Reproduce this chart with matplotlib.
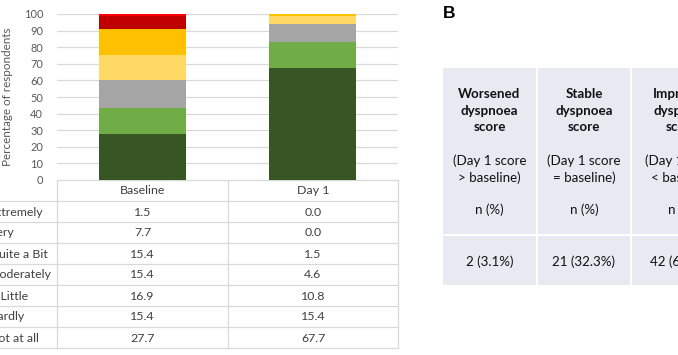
import matplotlib
matplotlib.use("Agg")
import matplotlib.pyplot as plt
import numpy as np

plt.rcParams["font.family"] = ["Lato", "DejaVu Sans"]

# ---- data ----
timepoints = ["Baseline", "Day 1"]
categories = ["Not at all", "Hardly", "A Little", "Moderately", "Quite a Bit", "Very", "Extremely"]
baseline = [27.7, 15.4, 16.9, 15.4, 15.4, 7.7, 1.5]
day1 = [67.7, 15.4, 10.8, 4.6, 1.5, 0.0, 0.0]
colors = ["#375623", "#70AD47", "#A5A5A5", "#FFD966", "#FFC000", "#C00000", "#FF0000"]

yticks = list(range(0, 101, 10))

change_headers = [
    ["Worsened", "dyspnoea", "score"],
    ["Stable", "dyspnoea", "score"],
    ["Improved", "dyspnoea", "score"],
]
change_rules = [
    ["(Day 1 score", "> baseline)"],
    ["(Day 1 score", "= baseline)"],
    ["(Day 1 score", "< baseline)"],
]
change_counts = [2, 21, 42]
change_pcts = [3.1, 32.3, 64.6]

W, H = 678, 355
fig = plt.figure(figsize=(W / 100, H / 100), dpi=100)

# overlay axes in pixel coordinates (y down)
ov = fig.add_axes([0, 0, 1, 1])
ov.set_xlim(0, W)
ov.set_ylim(H, 0)
ov.axis("off")

# ---- stacked bar chart ----
ax_l, ax_r, ax_t, ax_b = 57, 398, 14, 180
ax = fig.add_axes([ax_l / W, 1 - ax_b / H, (ax_r - ax_l) / W, (ax_b - ax_t) / H])
x = np.arange(len(timepoints))
series = np.array([baseline, day1]).T
bottom = np.zeros(len(timepoints))
for vals, c in zip(series, colors):
    ax.bar(x, vals, width=0.51, bottom=bottom, color=c, zorder=3)
    bottom += vals
ax.set_xlim(-0.5, 1.5)
ax.set_ylim(0, 100)
ax.set_yticks(yticks)
ax.set_xticks([])
ax.grid(axis="y", color="#D9D9D9", linewidth=0.9, zorder=0)
for s in ax.spines.values():
    s.set_visible(False)
ax.tick_params(axis="y", length=0, labelsize=7.9, labelcolor="#595959", pad=10)
ax.set_ylabel("Percentage of respondents", fontsize=8.4, color="#595959")
ax.yaxis.set_label_coords(-44 / (ax_r - ax_l), 0.5)

# ---- data table under the chart ----
line_c = "#D9D9D9"
txt_c = "#404040"
fs_tab = 8.9
row_h = 21
top = 180
col_edges = [57, 228, 398]
n_rows = len(categories)
# header row
ov.plot([57, 398], [top, top], color=line_c, lw=0.9)
for i, t in enumerate(timepoints):
    cx = (col_edges[i] + col_edges[i + 1]) / 2
    ov.text(cx, top + row_h / 2 + 0.5, t, ha="center", va="center", fontsize=fs_tab, color=txt_c)
rows_top_down = list(range(n_rows))[::-1]
for r, ci in enumerate(rows_top_down):
    y0 = top + row_h * (r + 1)
    ov.plot([0, 398], [y0, y0], color=line_c, lw=0.9)
    yc = y0 + row_h / 2 + 0.5
    ov.text(-11, yc, categories[ci], ha="left", va="center", fontsize=fs_tab, color=txt_c)
    ov.text((col_edges[0] + col_edges[1]) / 2, yc, f"{baseline[ci]:.1f}",
            ha="center", va="center", fontsize=fs_tab, color=txt_c)
    ov.text((col_edges[1] + col_edges[2]) / 2, yc, f"{day1[ci]:.1f}",
            ha="center", va="center", fontsize=fs_tab, color=txt_c)
bot = top + row_h * (n_rows + 1)
ov.plot([0, 398], [bot, bot], color=line_c, lw=0.9)
for xe in col_edges:
    ov.plot([xe, xe], [top, bot], color=line_c, lw=0.9)

# ---- panel B ----
ov.text(443, 14, "B", ha="left", va="center", fontsize=12.5, fontweight="bold",
        family="Liberation Sans", color="black")
fill = "#E8EAF2"
fs_b = 9.6
b_cols = [(443, 536), (538, 630), (632, 732)]
for i, (x0, x1) in enumerate(b_cols):
    cx = (x0 + x1) / 2
    ov.add_patch(plt.Rectangle((x0, 68), x1 - x0, 234 - 68, color=fill, lw=0))
    ov.add_patch(plt.Rectangle((x0, 236), x1 - x0, 285 - 236, color=fill, lw=0))
    for k, t in enumerate(change_headers[i]):
        ov.text(cx, 94 + 16.7 * k, t, ha="center", va="center", fontsize=fs_b,
                fontweight="bold", color="#111111")
    for k, t in enumerate(change_rules[i]):
        ov.text(cx, 161 + 16.7 * k, t, ha="center", va="center", fontsize=fs_b, color="#111111")
    ov.text(cx, 210, "n (%)", ha="center", va="center", fontsize=fs_b, color="#111111")
    ov.text(cx, 262, f"{change_counts[i]} ({change_pcts[i]:.1f}%)", ha="center",
            va="center", fontsize=fs_b, color="#111111")

fig.savefig("out.png", dpi=100)
